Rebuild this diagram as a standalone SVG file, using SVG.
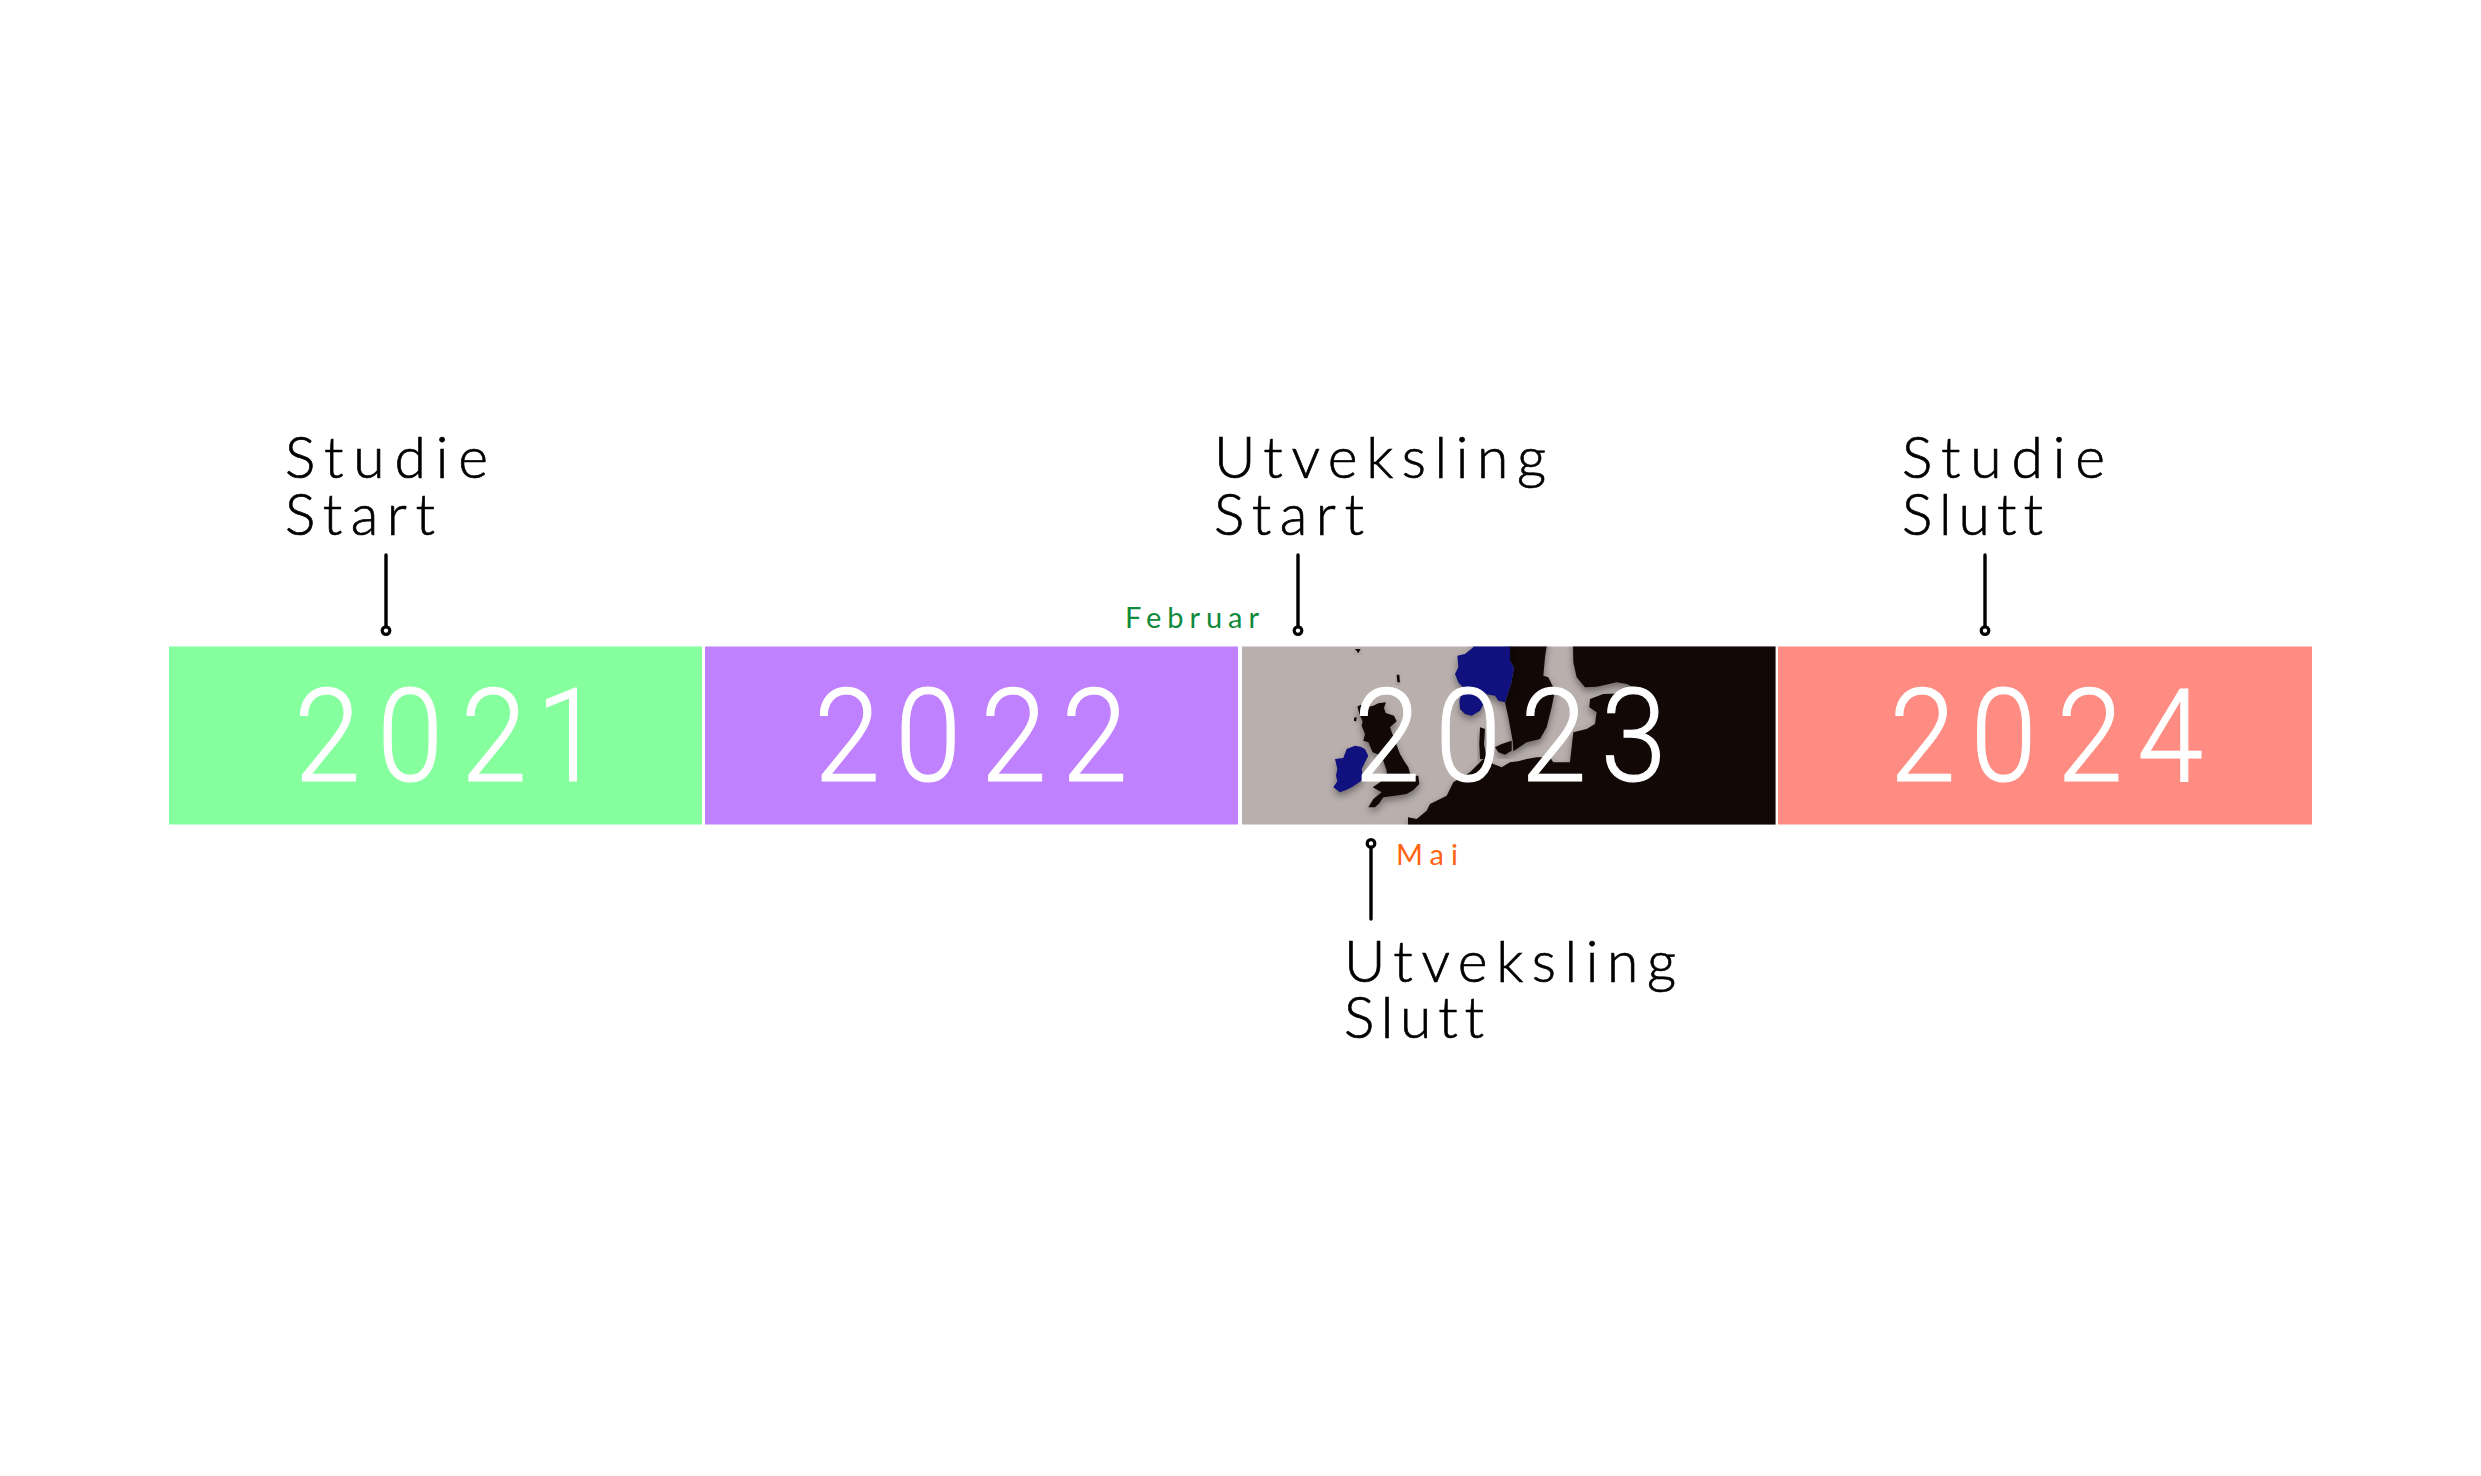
<svg xmlns="http://www.w3.org/2000/svg" width="2481" height="1476" viewBox="0 0 2481 1476">
<style>
.yr{font-family:"Roboto","Liberation Sans",sans-serif;font-weight:300;font-size:129px;fill:#fff;stroke:#fff;stroke-width:1.2}
.lb{font-family:"Lato","Liberation Sans",sans-serif;font-weight:300;font-size:57px;fill:#000;stroke:#000;stroke-width:.7;font-variant-ligatures:none}
.mo{font-family:"Lato","Liberation Sans",sans-serif;font-weight:400;font-size:29px;font-variant-ligatures:none}
.cn{fill:none;stroke:#000;stroke-width:3.4;stroke-linecap:round}
.land{fill:#120806;filter:url(#sh)}
.blue{fill:#11107f;filter:url(#sh)}
</style>
<defs>
<marker id="pin" markerUnits="userSpaceOnUse" markerWidth="14" markerHeight="14" viewBox="-1 -7 14 14" refX="0" refY="0" orient="auto">
<circle cx="4.6" cy="0" r="3.8" fill="#fff" stroke="#000" stroke-width="3.2"/>
</marker>
<clipPath id="mapclip"><rect x="1242" y="646.5" width="533.5" height="178"/></clipPath>
<filter id="sh" x="-30%" y="-30%" width="160%" height="160%" color-interpolation-filters="sRGB">
<feDropShadow dx="0" dy="12" stdDeviation="11" flood-color="#000" flood-opacity=".4"/>
</filter>
</defs>
<rect width="2481" height="1476" fill="#fff"/>
<g id="year-2021">
<rect x="169" y="646.5" width="533" height="178" fill="#86ff9f"/>
<text class="yr" transform="translate(0 781) scale(.92 1)" x="320 410 501 583" y="0">2021</text>
</g>
<g id="year-2022">
<rect x="705" y="646.5" width="533" height="178" fill="#c081ff"/>
<text class="yr" transform="translate(0 781) scale(.92 1)" x="885 973 1066 1154" y="0">2022</text>
</g>
<g id="year-2023">
<rect x="1242" y="646.5" width="533.5" height="178" fill="#b9b0ae"/>
<g clip-path="url(#mapclip)">
<g transform="translate(1240 644) scale(.3333)">
<path class="land" d="M352 188L362 182L378 190L400 185L415 178L438 175L432 192L437 207L462 215L470 232L450 250L458 272L465 290L480 330L492 350L505 370L512 395L535 395L538 420L520 438L500 450L465 455L430 460L418 478L405 490L385 490L400 465L425 445L398 430L420 415L440 400L440 380L425 335L398 325L385 295L370 290L375 270L365 245L368 232L360 215Z"/>
<path class="blue" d="M320 315L345 305L362 308L375 315L385 335L375 355L365 375L368 395L365 410L335 430L318 438L300 445L280 430L292 412L288 395L292 375L285 345L310 342Z"/>
<path class="land" d="M345 15L362 15L355 28Z"/>
<path class="land" d="M470 92L478 92L480 115L472 115Z"/>
<path class="land" d="M342 222L350 218L349 232L342 231Z"/>
</g>
<g transform="translate(1430 644) scale(.3333)">
<path class="land" d="M235 -60L1100 -60L1100 580L-66 580L-66 520L-40 525L-10 500L0 480L50 455L70 415L120 385L160 345L190 360L215 370L240 355L265 352L290 345L320 340L360 340L370 355L420 355L430 265L470 255L495 240L500 205L478 190L480 165L520 150L590 148L610 130L590 120L560 115L500 128L465 130L440 100L430 55L428 -60L360 -60L345 40L340 95L355 100L375 140L365 190L350 250L330 285L290 295L250 322L248 290L235 220L225 175L243 120L252 72L240 50Z"/>
<path class="land" d="M150 250L165 255L162 300L170 345L150 345L148 300Z"/>
<path class="land" d="M195 310L215 300L245 290L245 320L225 332L205 325Z"/>
<path class="blue" d="M82 35L105 30L130 10L132 -30L240 -30L240 50L252 72L243 120L235 145L225 175L205 170L195 155L165 150L165 172L150 200L125 215L105 210L90 195L88 170L100 132L85 115L75 90L85 70Z"/>
</g>
</g>
<text class="yr" transform="translate(0 781) scale(.92 1)" x="1472 1560 1653 1740" y="0">2023</text>
</g>
<g id="year-2024">
<rect x="1778" y="646.5" width="534" height="178" fill="#ff8c82"/>
<text class="yr" transform="translate(0 781) scale(.92 1)" x="2054 2142 2236 2323" y="0">2024</text>
</g>
<g id="label-studie-start">
<text class="lb" x="285" y="478" textLength="203" lengthAdjust="spacing">Studie</text>
<text class="lb" x="285" y="535" textLength="150" lengthAdjust="spacing">Start</text>
</g>
<g id="label-utveksling-start">
<text class="lb" x="1214" y="478" textLength="332" lengthAdjust="spacing">Utveksling</text>
<text class="lb" x="1214" y="535" textLength="150" lengthAdjust="spacing">Start</text>
<text class="mo" x="1125" y="628" fill="#0f8a3a" textLength="134" lengthAdjust="spacing">Februar</text>
</g>
<g id="label-utveksling-slutt">
<text class="lb" x="1344" y="982" textLength="332" lengthAdjust="spacing">Utveksling</text>
<text class="lb" x="1344" y="1038" textLength="140" lengthAdjust="spacing">Slutt</text>
<text class="mo" x="1396" y="865" fill="#ff6412" textLength="62" lengthAdjust="spacing">Mai</text>
</g>
<g id="label-studie-slutt">
<text class="lb" x="1902" y="478" textLength="203" lengthAdjust="spacing">Studie</text>
<text class="lb" x="1902" y="535" textLength="141" lengthAdjust="spacing">Slutt</text>
</g>
<g id="connectors">
<path class="cn" d="M386 555V626" marker-end="url(#pin)"/>
<path class="cn" d="M1298 555V626" marker-end="url(#pin)"/>
<path class="cn" d="M1985 555V626" marker-end="url(#pin)"/>
<path class="cn" d="M1371 919V848" marker-end="url(#pin)"/>
</g>
</svg>
